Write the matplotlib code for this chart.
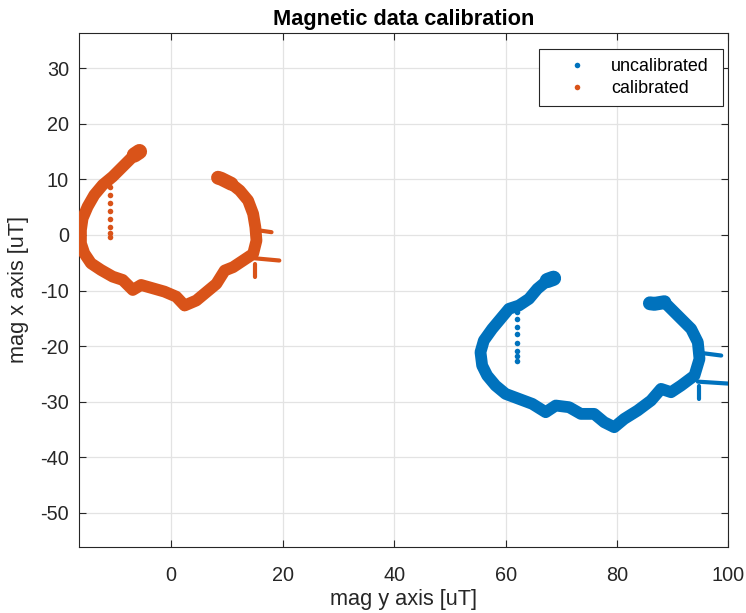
import matplotlib
matplotlib.use("Agg")
import matplotlib.pyplot as plt

plt.rcParams["font.family"] = ["Liberation Sans", "DejaVu Sans"]
plt.rcParams["axes.unicode_minus"] = False

# uncalibrated readings (horizontal = mag y, vertical = mag x), traced along the arc
uncal_magy = [68.6, 67.5, 65.7, 64.2, 62.4, 60.6, 59.1, 57.6, 56.1, 55.5, 55.8, 56.7,
              58.2, 60.0, 62.4, 64.8, 67.2, 69.0, 71.4, 73.5, 75.9, 77.7, 79.5, 81.3,
              83.7, 86.1, 87.9, 89.7, 91.5, 93.9, 94.8, 94.5, 93.3, 91.5, 90.0, 88.5,
              86.7, 85.9]
uncal_magx = [-7.8, -8.2, -9.7, -11.5, -12.7, -13.3, -15.1, -16.9, -19.0, -21.1, -23.5, -25.3,
              -27.1, -28.6, -29.5, -30.4, -31.9, -30.7, -31.0, -32.2, -32.2, -33.7, -34.6, -33.1,
              -31.6, -29.8, -27.7, -28.3, -27.1, -25.3, -22.3, -19.3, -16.9, -15.1, -13.6, -12.1,
              -12.4, -12.3]
# short bursts sticking out of the arc
uncal_spikes_magy = [[94.8, 98.7], [94.5, 100.8], [94.8, 94.8]]
uncal_spikes_magx = [[-21.2, -21.7], [-26.4, -26.8], [-27.1, -29.5]]
# sparse column of samples inside the arc
uncal_dots_magy = [62.1, 62.1, 62.1, 62.1, 62.1, 62.1, 62.1, 62.1]
uncal_dots_magx = [-13.9, -15.1, -16.5, -17.9, -19.4, -20.8, -21.7, -22.6]

# calibrated readings
cal_magy = [-5.7, -6.6, -8.7, -10.5, -12.3, -13.8, -15.0, -15.9, -16.2, -16.2, -15.6, -14.4,
            -12.6, -10.5, -8.7, -6.9, -5.4, -3.3, -1.2, 0.9, 2.4, 4.5, 6.3, 8.1,
            9.6, 11.1, 12.9, 14.7, 15.3, 15.1, 14.7, 13.8, 12.3, 10.8, 9.0, 8.4]
cal_magx = [15.0, 14.4, 12.3, 10.5, 9.0, 7.2, 5.1, 3.0, 0.9, -1.5, -3.3, -5.1,
            -6.3, -7.5, -8.1, -9.9, -9.0, -9.6, -10.2, -11.1, -12.7, -11.8, -10.3, -8.8,
            -6.4, -5.8, -4.6, -3.4, -1.0, 1.4, 3.8, 6.2, 8.0, 9.2, 10.1, 10.3]
cal_spikes_magy = [[15.2, 18.0], [15.0, 19.4], [15.0, 15.0]]
cal_spikes_magx = [[0.9, 0.5], [-4.2, -4.6], [-5.2, -7.6]]
cal_dots_magy = [-11.0, -11.0, -11.0, -11.0, -11.0, -11.0, -11.0, -11.0]
cal_dots_magx = [8.7, 7.2, 5.8, 4.4, 2.9, 1.5, 0.4, -0.4]

blue = "#0072BD"
orange = "#D95319"

fig = plt.figure(figsize=(7.46, 6.13), dpi=100)
ax = fig.add_axes([0.1055, 0.1082, 0.871, 0.838])

for mx, my, sx, sy, dx, dy, c, lab in [
        (uncal_magy, uncal_magx, uncal_spikes_magy, uncal_spikes_magx,
         uncal_dots_magy, uncal_dots_magx, blue, "uncalibrated"),
        (cal_magy, cal_magx, cal_spikes_magy, cal_spikes_magx,
         cal_dots_magy, cal_dots_magx, orange, "calibrated")]:
    # dense cloud of samples -> thick band
    ax.plot(mx, my, "-", color=c, lw=8.5, solid_capstyle="round",
            solid_joinstyle="round", zorder=3)
    # blobs where the recording starts / ends
    ax.plot(mx[:2], my[:2], "-", color=c, lw=11, solid_capstyle="round", zorder=3)
    ax.plot(mx[-3:], my[-3:], "-", color=c, lw=10, solid_capstyle="round", zorder=3)
    for x, y in zip(sx, sy):
        ax.plot(x, y, "-", color=c, lw=3, solid_capstyle="round", zorder=3)
    ax.plot(dx, dy, "o", color=c, ms=4, mew=0, ls="none", label=lab, zorder=3)

ax.set_xlim(-16.6, 100.0)
ax.set_ylim(-56.1, 36.35)
ax.set_xticks([0, 20, 40, 60, 80, 100])
ax.set_yticks([-50, -40, -30, -20, -10, 0, 10, 20, 30])

ax.grid(True, color="#e3e3e3", lw=0.9)
ax.set_axisbelow(True)
for s in ax.spines.values():
    s.set_color("#262626")
    s.set_linewidth(0.8)
ax.tick_params(direction="in", length=5, width=0.8, colors="#262626",
               labelsize=14.3, top=True, right=True, pad=7)
ax.tick_params(axis="x", pad=14)

ax.set_xlabel("mag y axis [uT]", fontsize=15.7, color="#262626", labelpad=3)
ax.set_ylabel("mag x axis [uT]", fontsize=15.7, color="#262626", labelpad=8)
ax.set_title("Magnetic data calibration", fontsize=15.7, fontweight="bold",
             color="black", pad=6)

leg = ax.legend(loc="upper left", mode="expand",
                bbox_to_anchor=(539 / 746, 1 - 104.3 / 613, 183.7 / 746, 55.3 / 613),
                bbox_transform=fig.transFigure, borderaxespad=0,
                fontsize=12.9, handlelength=3.2, handletextpad=0.32,
                borderpad=0.5, labelspacing=0.28, fancybox=False, framealpha=1,
                edgecolor="#262626", markerscale=1.0)
leg.get_frame().set_linewidth(0.8)

plt.savefig("out.png", dpi=100)
